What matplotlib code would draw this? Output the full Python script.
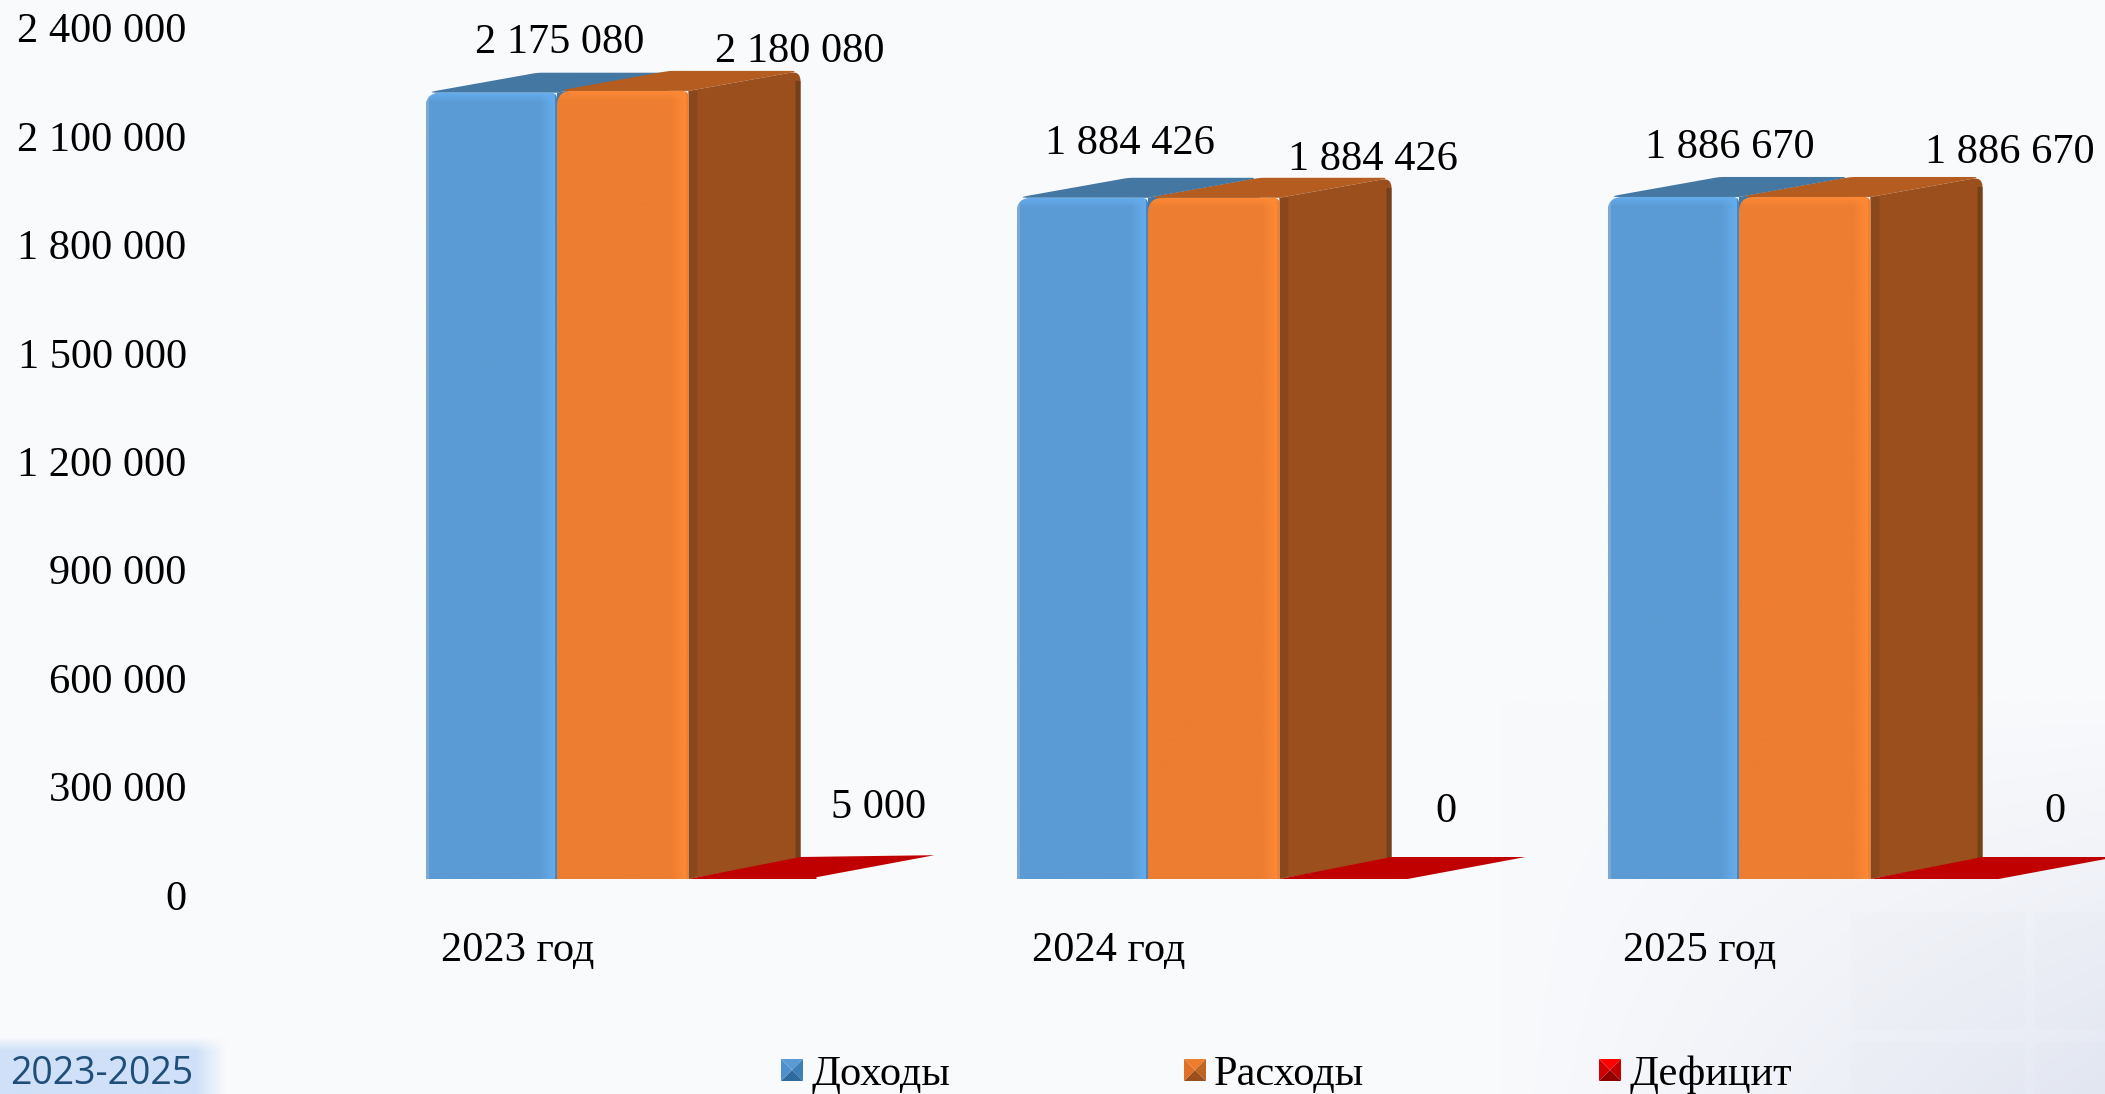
import numpy as np
import matplotlib
matplotlib.use('Agg')
import matplotlib.pyplot as plt
from matplotlib.path import Path
from matplotlib.patches import PathPatch, Polygon
from matplotlib.transforms import ScaledTranslation

# data
years = ['2023 год', '2024 год', '2025 год']
incomes = [2175080, 1884426, 1886670]
expenses = [2180080, 1884426, 1886670]
deficit = [5000, 0, 0]
series_names = ['Доходы', 'Расходы', 'Дефицит']
y_ticks = [0, 300000, 600000, 900000, 1200000, 1500000, 1800000, 2100000, 2400000]
corner_note = '2023-2025'

# label shift from the bar it belongs to, in pixels (hand placed in the original)
income_shift = [(3, 50), (-18, 54), (-9, 49)]
expense_shift = [(111, 39), (93, 38), (139, 44)]
deficit_shift = [(8, 49), (-16, 45), (2, 45)]

W, H = 2105, 1094
BASE = 879          # pixel row of the bar feet
PX_PER_VAL = 0.3615e-3
PX_PER_GROUP = 591
FIRST_TICK = 518    # pixel column of first category label
AX_LEFT = 195

plt.rcParams['font.family'] = ['Liberation Serif', 'DejaVu Serif']

fig = plt.figure(figsize=(W / 100, H / 100), dpi=100)

# background in pixel coordinates
bg = fig.add_axes([0, 0, 1, 1], zorder=0)
yy, xx = np.mgrid[0:H:2, 0:W:2]
shade = np.clip((xx - 1500) / 605, 0, 1) * np.clip((yy - 700) / 394, 0, 1)
img = np.zeros(xx.shape + (3,))
base_col = np.array([249, 250, 252]) / 255
dark_col = np.array([228, 232, 243]) / 255
for i in range(3):
    img[..., i] = base_col[i] + (dark_col[i] - base_col[i]) * shade
# faint tiles at bottom right
for tx, ty, tw, th in [(1850, 910, 175, 120), (2035, 910, 70, 120), (1850, 1040, 175, 54), (2035, 1040, 70, 54)]:
    mask = (xx > tx) & (xx < tx + tw) & (yy > ty) & (yy < ty + th)
    img[mask] = img[mask] - 0.008
# light blue box under the note
box = np.clip((225 - xx) / 30, 0, 1) * np.clip((yy - 1036) / 14, 0, 1)
box_col = np.array([207, 224, 248]) / 255
for i in range(3):
    img[..., i] = img[..., i] * (1 - box) + box_col[i] * box
bg.imshow(img, extent=(0, W, H, 0), aspect='auto', interpolation='bilinear')
bg.set_xlim(0, W)
bg.set_ylim(H, 0)
bg.axis('off')

# main axes, y=0 sits on the bar feet
ax = fig.add_axes([AX_LEFT / W, (H - BASE) / H, (W - AX_LEFT) / W, BASE / H], zorder=1)
ax.patch.set_alpha(0)
for s in ax.spines.values():
    s.set_visible(False)

DX = 112 / PX_PER_GROUP
DY = 20 / PX_PER_VAL
BAR_W = 131.5 / PX_PER_GROUP
GROUP_OFFSET = -92.5 / PX_PER_GROUP
RED_W = 128 / PX_PER_GROUP
RED_DX = 118 / PX_PER_GROUP
RED_DY = 22 / PX_PER_VAL


def rounded_path(points, radii):
    # polygon in data coordinates, radii in pixels
    pts = np.array(points, dtype=float) * [PX_PER_GROUP, PX_PER_VAL]
    verts, codes = [], []
    n = len(pts)
    for i in range(n):
        p, prev, nxt = pts[i], pts[i - 1], pts[(i + 1) % n]
        r = radii[i]
        if r == 0:
            verts.append(p)
            codes.append(Path.LINETO)
        else:
            a = p + (prev - p) / np.linalg.norm(prev - p) * r
            b = p + (nxt - p) / np.linalg.norm(nxt - p) * r
            verts += [a, p, b]
            codes += [Path.LINETO, Path.CURVE3, Path.CURVE3]
    codes[0] = Path.MOVETO
    verts.append(verts[0])
    codes.append(Path.CLOSEPOLY)
    return Path(np.array(verts) / [PX_PER_GROUP, PX_PER_VAL], codes)


def front_image(w_px, h_px, col, light, dark, edge):
    # shading of a bar face, made in pixels
    w_px, h_px = int(w_px), int(h_px)
    arr = np.ones((h_px, w_px, 3)) * np.array(matplotlib.colors.to_rgb(col))
    lc = np.array(matplotlib.colors.to_rgb(light))
    dc = np.array(matplotlib.colors.to_rgb(dark))
    ec = np.array(matplotlib.colors.to_rgb(edge))
    for k in range(16):
        t = 1 - k / 16
        arr[:, w_px - 3 - k] = arr[:, w_px - 3 - k] * (1 - t) + lc * t
    for k in range(10):
        t = 1 - k / 10
        arr[k, :] = arr[k, :] * (1 - t) + lc * t
    arr[:, w_px - 3:] = dc
    arr[:, :3] = ec
    return arr


def draw_bar(x, value, front, light, dark, edge, top, side, side_dark, z):
    x1 = x + BAR_W
    # top face
    ax.add_patch(PathPatch(rounded_path(
        [(x, value), (x + DX, value + DY), (x1 + DX, value + DY), (x1, value)], [12, 4, 10, 0]),
        fc=top, ec='none', zorder=z))
    # side face
    ax.add_patch(PathPatch(rounded_path(
        [(x1, 0), (x1 + DX, DY), (x1 + DX, value + DY), (x1, value)], [0, 0, 10, 0]),
        fc=side, ec='none', zorder=z + 0.1))
    ax.add_patch(Polygon(
        [(x1 + DX - 5 / PX_PER_GROUP, DY * 0.96), (x1 + DX, DY), (x1 + DX, value + DY - 10 / PX_PER_VAL),
         (x1 + DX - 5 / PX_PER_GROUP, value + DY - 10 / PX_PER_VAL)],
        fc=side_dark, ec='none', zorder=z + 0.15))
    ax.add_patch(Polygon(
        [(x1, 0), (x1 + 9 / PX_PER_GROUP, 0.08 * DY * 2), (x1 + 9 / PX_PER_GROUP, value), (x1, value)],
        fc=side_dark, ec='none', alpha=0.45, zorder=z + 0.15))
    # front face with soft edges
    clip = PathPatch(rounded_path([(x, 0), (x, value), (x1, value), (x1, 0)], [0, 15, 6, 0]),
                     fc='none', ec='none', transform=ax.transData)
    ax.add_patch(clip)
    im = ax.imshow(front_image(BAR_W * PX_PER_GROUP, value * PX_PER_VAL, front, light, dark, edge),
                   extent=(x, x1, 0, value), aspect='auto', zorder=z + 0.2, interpolation='bilinear')
    im.set_clip_path(clip)


def fmt(v):
    return f'{v:,}'.replace(',', ' ')


for g in range(len(years)):
    left = g + GROUP_OFFSET
    mid = left + BAR_W
    right = mid + BAR_W
    draw_bar(left, incomes[g], '#5B9BD5', '#66ADEE', '#4A86BE', '#7CA9D4', '#4577A3', '#4577A3', '#4577A3', 2)
    draw_bar(mid, expenses[g], '#ED7D31', '#FF8A36', '#F08030', '#ED7D31', '#B55C20', '#9A4F1D', '#74401A', 3)
    # deficit is only a flat plate
    d = deficit[g]
    ax.add_patch(Polygon([(right, 0), (right + RED_DX - 6 / PX_PER_GROUP, RED_DY), (right + RED_DX + RED_W, RED_DY + d),
                          (right + RED_W, d), (right + RED_W, 0)],
                         fc='#C00000', ec='none', zorder=4))

    # value labels
    ax.annotate(fmt(incomes[g]), (mid, incomes[g]), xytext=income_shift[g], textcoords='offset pixels',
                ha='center', va='center', fontsize=30.5, color='black', zorder=6, annotation_clip=False)
    ax.annotate(fmt(expenses[g]), (right, expenses[g]), xytext=expense_shift[g], textcoords='offset pixels',
                ha='center', va='center', fontsize=30.5, color='black', zorder=6, annotation_clip=False)
    ax.annotate(fmt(d), (right + DX + RED_W * 0.55, DY * 1.1), xytext=deficit_shift[g], textcoords='offset pixels',
                ha='center', va='center', fontsize=30.5, color='black', zorder=6, annotation_clip=False)

ax.set_xlim((AX_LEFT - FIRST_TICK) / PX_PER_GROUP, (W - FIRST_TICK) / PX_PER_GROUP)
ax.set_ylim(0, BASE / PX_PER_VAL)

# ticks
ax.set_xticks(range(len(years)))
ax.set_xticklabels(years, fontsize=30.5)
ax.tick_params(axis='x', length=0, pad=38)
ax.set_yticks(y_ticks)
ax.set_yticklabels([fmt(v) for v in y_ticks], fontsize=30.5)
ax.tick_params(axis='y', length=0, pad=6)
offset = ScaledTranslation(0, -16 / 100, fig.dpi_scale_trans)
for lab in ax.get_yticklabels():
    lab.set_transform(lab.get_transform() + offset)
    lab.set_clip_on(False)

# legend drawn by hand, the markers are small pyramids
marker_x = [781, 1184, 1599]
legend_cols = [('#5B9BD5', '#3F7FB8', '#2F6A9E', '#4F8FCC'),
               ('#ED7D31', '#C0651F', '#9A4F1D', '#E07028'),
               ('#FF0000', '#C00000', '#8E0000', '#D00000')]
S = 22
for mx, name, cols in zip(marker_x, series_names, legend_cols):
    my = 1059
    c = (mx + S / 2, my + S / 2)
    corners = [(mx, my), (mx + S, my), (mx + S, my + S), (mx, my + S)]
    for k in range(4):
        bg.add_patch(Polygon([corners[k], corners[(k + 1) % 4], c], fc=cols[k], ec='none'))
    bg.text(mx + S + 8, 1075, name, fontsize=30.5, ha='left', va='center', color='black')

bg.text(10, 1074, corner_note, family='Open Sans', fontsize=27, color='#1F4E79', ha='left', va='center')

fig.savefig('out.png', dpi=100)
